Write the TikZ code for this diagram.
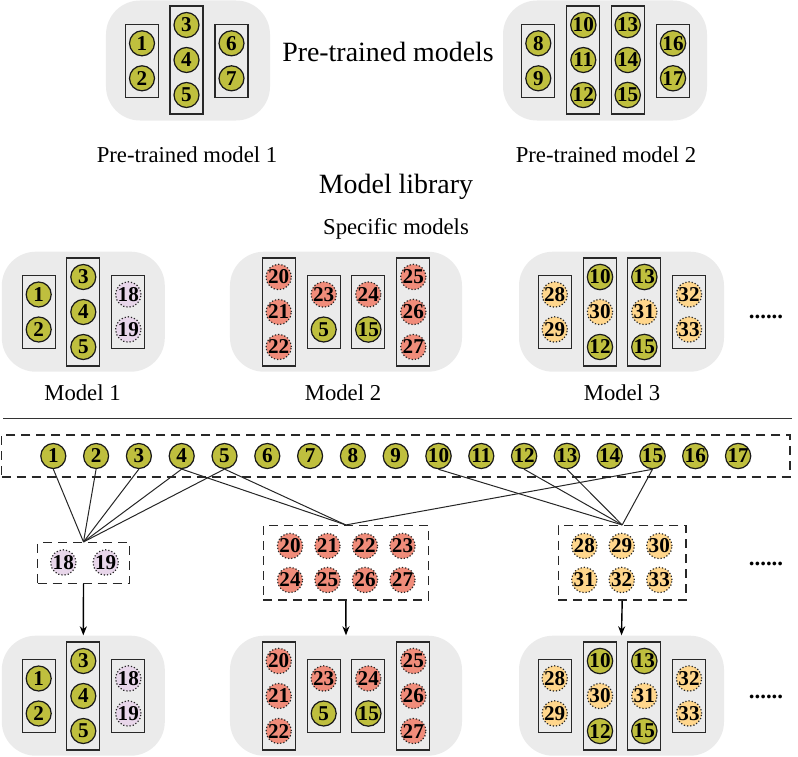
\documentclass[tikz,border=0pt]{standalone}
\usepackage{fontspec}
\setmainfont{Liberation Serif}
\usetikzlibrary{arrows.meta}
\definecolor{olivec}{RGB}{191,191,62}
\definecolor{lav}{RGB}{232,214,234}
\definecolor{salm}{RGB}{240,140,122}
\definecolor{orng}{RGB}{255,214,140}
\definecolor{bgg}{RGB}{235,235,235}
\definecolor{boxc}{RGB}{40,40,40}
\newcommand{\colT}[9]{%
 \node[tallbox] (#1) at (#2,#3) {};
 \node[#4] (#1a) at (#2,#3-35) {#5};
 \node[#6] (#1b) at (#2,#3) {#7};
 \node[#8] (#1c) at (#2,#3+35) {#9};
}
\newcommand{\colS}[7]{%
 \node[shortbox] (#1) at (#2,#3) {};
 \node[#4] (#1a) at (#2,#3-17.5) {#5};
 \node[#6] (#1b) at (#2,#3+17.5) {#7};
}
\begin{document}
\begin{tikzpicture}[x=0.5bp,y=-0.5bp,
  bg/.style={fill=bgg, draw=none, rounded corners=17bp, inner sep=0, minimum height=60bp},
  tallbox/.style={draw=boxc, line width=0.65bp, minimum width=16.5bp, minimum height=54bp, inner sep=0},
  shortbox/.style={draw=boxc, line width=0.65bp, minimum width=16.5bp, minimum height=36.5bp, inner sep=0},
  cir/.style={circle, minimum size=12.5bp, inner sep=0, line width=0.6bp, font=\bfseries\fontsize{10.6}{10.6}\selectfont},
  old/.style={cir, fill=olivec, draw=black!90},
  newc/.style={cir, draw=black!85, densely dotted},
  pur/.style={newc, fill=lav},
  sal/.style={newc, fill=salm},
  org/.style={newc, fill=orng},
  big/.style={font=\fontsize{14}{16}\selectfont},
  small/.style={font=\fontsize{11.4}{13}\selectfont},
  dbox/.style={draw=boxc, line width=0.75bp, dash pattern=on 4.5bp off 3bp, inner sep=0},
  conn/.style={line width=0.5bp, black!85},
  arr/.style={line width=0.7bp, -{Stealth[length=4.5bp,width=3.5bp]}},
  dots/.style={font=\bfseries\fontsize{11.5}{11.5}\selectfont, anchor=base}
]
\useasboundingbox (0,0) rectangle (798,757);
% ---------- pre-trained models ----------
\node[bg, minimum width=82bp] (pm1) at (188,60.5) {};
\colS{pmA}{142}{60.8}{old}{1}{old}{2}
\colT{pmB}{186.5}{60}{old}{3}{old}{4}{old}{5}
\colS{pmC}{231.5}{60.8}{old}{6}{old}{7}
\node[bg, minimum width=102bp] (pm2) at (605,60.5) {};
\colS{pmD}{538.3}{60.8}{old}{8}{old}{9}
\colT{pmE}{583.3}{60}{old}{10}{old}{11}{old}{12}
\colT{pmF}{627.7}{60}{old}{13}{old}{14}{old}{15}
\colS{pmG}{673}{60.8}{old}{16}{old}{17}
\node[big] (lpm) at (388,52) {Pre-trained models};
\node[small] (lpm1) at (187,155) {Pre-trained model 1};
\node[small] (lpm2) at (606,155) {Pre-trained model 2};
\node[big] (llib) at (396,187) {Model library};
\node[small] (lspec) at (396,229) {Specific models};
% ---------- specific models ----------
\node[bg, minimum width=81.5bp] (sm1) at (83.3,311.7) {};
\colS{smA}{38.7}{312}{old}{1}{old}{2}
\colT{smB}{83.3}{312}{old}{3}{old}{4}{old}{5}
\colS{smC}{128.3}{312}{pur}{18}{pur}{19}
\node[bg, minimum width=116bp] (sm2) at (346,311.7) {};
\colT{smD}{278.7}{312}{sal}{20}{sal}{21}{sal}{22}
\colS{smE}{323.7}{312}{sal}{23}{old}{5}
\colS{smF}{368.3}{312}{sal}{24}{old}{15}
\colT{smG}{413.3}{312}{sal}{25}{sal}{26}{sal}{27}
\node[bg, minimum width=102.5bp] (sm3) at (621.5,311.7) {};
\colS{smH}{554.7}{312}{org}{28}{org}{29}
\colT{smI}{600}{312}{old}{10}{org}{30}{old}{12}
\colT{smJ}{644.3}{312}{old}{13}{org}{31}{old}{15}
\colS{smK}{689}{312}{org}{32}{org}{33}
\node[dots] (d1) at (766,318) {......};
\node[small] (lm1) at (82.5,393) {Model 1};
\node[small] (lm2) at (343,393) {Model 2};
\node[small] (lm3) at (622,393) {Model 3};
% ---------- separator ----------
\coordinate (sepL) at (3,418);
\coordinate (sepR) at (792,418);
\draw[line width=0.5bp, black!80] (sepL) -- (sepR);
% ---------- row of all parameters ----------
\node[dbox, minimum width=394.2bp, minimum height=20.9bp] (row) at (395.9,455.9) {};
\foreach \i in {1,...,17} {
  \node[old] (r\i) at ({53.3+(\i-1)*42.8},456) {\i};
}
% ---------- new parameter groups ----------
\node[dbox, minimum width=45.8bp, minimum height=20.3bp] (boxA) at (83.5,563) {};
\node[pur] (a18) at (63.3,562.5) {18};
\node[pur] (a19) at (105.7,562.5) {19};
\node[dbox, minimum width=82.5bp, minimum height=37.2bp] (boxB) at (345.8,562.9) {};
\foreach \n/\x in {20/290,21/327.5,22/365,23/402.5} {\node[sal] (b\n) at (\x,546) {\n};}
\foreach \n/\x in {24/290,25/327.5,26/365,27/402.5} {\node[sal] (b\n) at (\x,580) {\n};}
\node[dbox, minimum width=63.9bp, minimum height=37.2bp] (boxC) at (622.2,562.9) {};
\foreach \n/\x in {28/584.3,29/621.7,30/659.3} {\node[org] (c\n) at (\x,546) {\n};}
\foreach \n/\x in {31/584.3,32/621.7,33/659.3} {\node[org] (c\n) at (\x,580) {\n};}
\node[dots] (d2) at (766,565) {......};
% ---------- connectors ----------
\foreach \i in {1,...,5} {\draw[conn] (r\i.south) -- (boxA.north);}
\foreach \i in {4,5,15} {\draw[conn] (r\i.south) -- (boxB.north);}
\foreach \i in {10,12,13,15} {\draw[conn] (r\i.south) -- (boxC.north);}
% ---------- bottom models ----------
\node[bg, minimum width=81.5bp] (bm1) at (83.3,695.7) {};
\colS{bmA}{38.7}{696}{old}{1}{old}{2}
\colT{bmB}{83.3}{696}{old}{3}{old}{4}{old}{5}
\colS{bmC}{128.3}{696}{pur}{18}{pur}{19}
\node[bg, minimum width=116bp] (bm2) at (346,695.7) {};
\colT{bmD}{278.7}{696}{sal}{20}{sal}{21}{sal}{22}
\colS{bmE}{323.7}{696}{sal}{23}{old}{5}
\colS{bmF}{368.3}{696}{sal}{24}{old}{15}
\colT{bmG}{413.3}{696}{sal}{25}{sal}{26}{sal}{27}
\node[bg, minimum width=102.5bp] (bm3) at (621.5,695.7) {};
\colS{bmH}{554.7}{696}{org}{28}{org}{29}
\colT{bmI}{600}{696}{old}{10}{org}{30}{old}{12}
\colT{bmJ}{644.3}{696}{old}{13}{org}{31}{old}{15}
\colS{bmK}{689}{696}{org}{32}{org}{33}
\node[dots] (d3) at (766,698) {......};
% ---------- arrows ----------
\draw[arr] (boxA.south) -- (bm1.north);
\draw[arr] (boxB.south) -- (bm2.north);
\draw[arr] (boxC.south) -- (bm3.north);
\end{tikzpicture}
\end{document}
